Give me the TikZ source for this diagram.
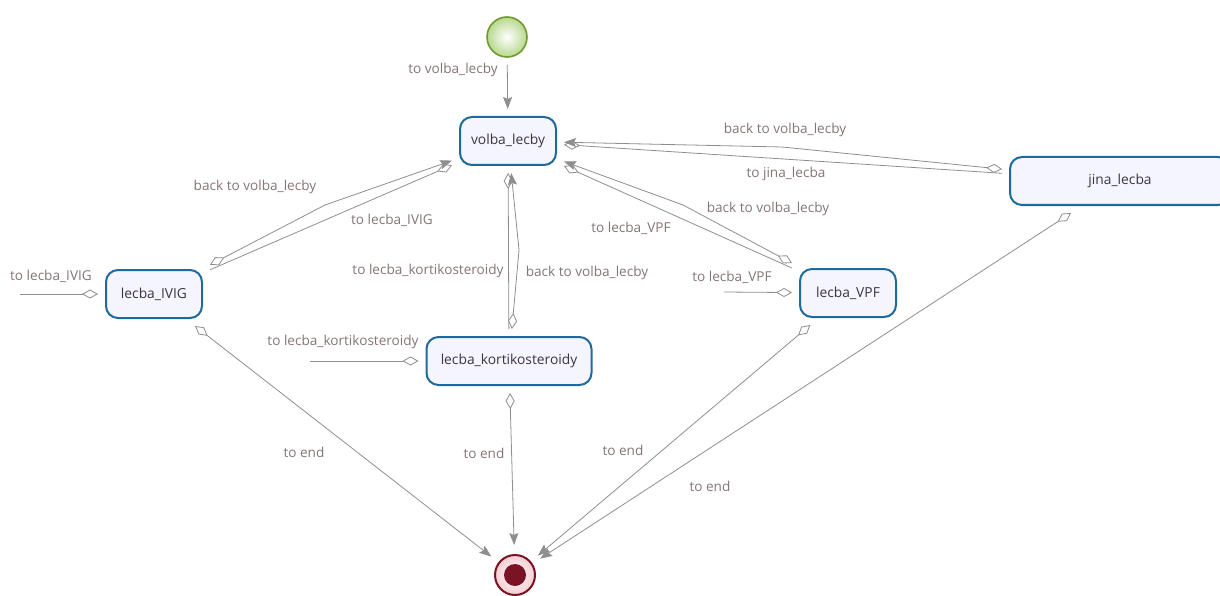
\documentclass[tikz,border=0pt]{standalone}
\usepackage{fontspec}
\setmainfont{Open Sans}
\usetikzlibrary{arrows.meta}
\definecolor{stateblue}{HTML}{1F6A9A}
\definecolor{statefill}{HTML}{F4F5FD}
\definecolor{statetext}{HTML}{3C3440}
\definecolor{edgegray}{HTML}{8E8E8E}
\definecolor{labelgray}{HTML}{857575}
\definecolor{startgreen}{HTML}{6E9A2E}
\definecolor{startfill}{HTML}{B8D88E}
\definecolor{endred}{HTML}{7A1424}
\definecolor{endpink}{HTML}{F3CDD3}
\begin{document}
\begin{tikzpicture}[x=1pt, y=-1pt,
        every node/.style = {align=center},
        state/.style = {draw=stateblue, line width=2pt, fill=statefill,
            rounded corners=12pt, minimum width=96pt, minimum height=48pt,
            outer sep=8pt, text=statetext, font=\fontsize{13.8}{16}\selectfont},
        startnode/.style = {circle, draw=startgreen, line width=1.6pt,
            inner color=white, outer color=startfill, minimum size=40pt, outer sep=8pt},
        endnode/.style = {circle, draw=endred, line width=2pt,
            inner color=white, outer color=endpink, minimum size=40pt, outer sep=10pt},
        lbl/.style = {text=labelgray, font=\fontsize{13.6}{16}\selectfont},
        trans/.style = {draw=edgegray, line width=0.8pt},
        dia/.tip = {Diamond[length=16pt, width=9pt, fill=white, line width=0.8pt]},
        arr/.tip = {Stealth[length=12pt, width=9pt, inset=2pt, fill=edgegray]}]
    \clip (0,0) rectangle (1220,596);
    \node[startnode] (start) at (507,37) {};
    \node[state] (volba) at (508,141) {volba\_lecby};
    \node[state] (ivig) at (154,294) {lecba\_IVIG};
    \node[state, minimum width=165pt] (korti) at (509,361) {lecba\_kortikosteroidy};
    \node[state] (vpf) at (848,293) {lecba\_VPF};
    \node[state, minimum width=220pt] (jina) at (1120,181) {jina\_lecba};
    \node[endnode] (end) at (515,575) {};
    \fill[endred] (end.center) circle (11pt);
    \coordinate (inIvig) at (20,294);
    \coordinate (inKorti) at (310,361);
    \coordinate (inVpf) at (724,292);
    \coordinate (bendIvig) at (325,205);
    \coordinate (bendKorti) at (519,250);
    \coordinate (bendVpf) at (683,205);
    \coordinate (bendJina) at (782,147);
    \draw[trans, -arr] (start) -- (volba);
    \draw[trans, -dia] (inIvig) -- (ivig);
    \draw[trans, -dia] (inKorti) -- (korti);
    \draw[trans, -dia] (inVpf) -- (vpf);
    \draw[trans, dia-] (volba) -- (ivig);
    \draw[trans, dia-arr] (ivig) -- (bendIvig) -- (volba);
    \draw[trans, dia-] (volba) -- (korti);
    \draw[trans, dia-arr] (korti) -- (bendKorti) -- (volba);
    \draw[trans, dia-] (volba) -- (vpf);
    \draw[trans, dia-arr] (vpf) -- (bendVpf) -- (volba);
    \draw[trans, dia-] (volba) -- (jina);
    \draw[trans, dia-arr] (jina) -- (bendJina) -- (volba);
    \draw[trans, dia-arr] (ivig) -- (end);
    \draw[trans, dia-arr] (korti) -- (end);
    \draw[trans, dia-arr] (vpf) -- (end);
    \draw[trans, dia-arr] (jina) -- (end);
    \node[lbl] (lStart) at (453,70) {to volba\_lecby};
    \node[lbl] (lIvigBack) at (255,187) {back to volba\_lecby};
    \node[lbl] (lIvigTo) at (392,220) {to lecba\_IVIG};
    \node[lbl] (lKortiTo) at (428,271) {to lecba\_kortikosteroidy};
    \node[lbl] (lKortiBack) at (587,273) {back to volba\_lecby};
    \node[lbl] (lVpfTo) at (631,228) {to lecba\_VPF};
    \node[lbl] (lVpfBack) at (768,209) {back to volba\_lecby};
    \node[lbl] (lJinaBack) at (785,130) {back to volba\_lecby};
    \node[lbl] (lJinaTo) at (786,174) {to jina\_lecba};
    \node[lbl] (lInIvig) at (51,276) {to lecba\_IVIG};
    \node[lbl] (lInKorti) at (343,342) {to lecba\_kortikosteroidy};
    \node[lbl] (lInVpf) at (732,277) {to lecba\_VPF};
    \node[lbl] (lEndIvig) at (304,452) {to end};
    \node[lbl] (lEndKorti) at (484,453) {to end};
    \node[lbl] (lEndVpf) at (623,450) {to end};
    \node[lbl] (lEndJina) at (710,486) {to end};
\end{tikzpicture}
\end{document}
